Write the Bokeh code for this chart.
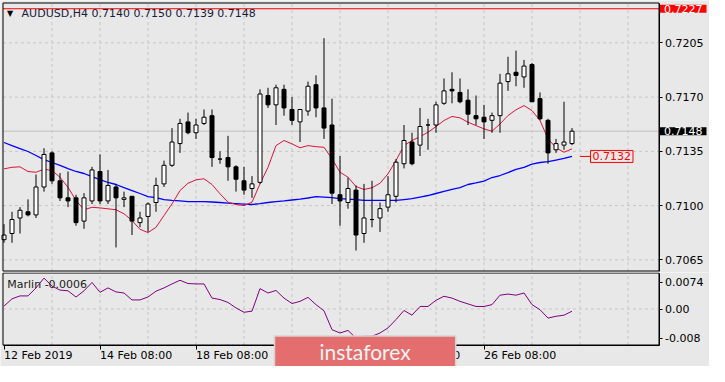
from bokeh.plotting import figure
from bokeh.layouts import column
from bokeh.models import (ColumnDataSource, FixedTicker, LinearAxis, Label,
                          PrintfTickFormatter, Range1d)
from bokeh.embed import file_html
from bokeh.resources import INLINE

# ---------------- data (AUDUSD, H4) ----------------
opens = [0.7078, 0.7082, 0.7092, 0.7096, 0.7094, 0.7112, 0.7134, 0.7116, 0.7105, 0.7105,
         0.7090, 0.7103, 0.7122, 0.7103, 0.7112, 0.7104, 0.7106, 0.7089, 0.7093, 0.7102,
         0.7114, 0.7126, 0.7140, 0.7154, 0.7147, 0.7153, 0.7158, 0.7130, 0.7131, 0.7125,
         0.7116, 0.7111, 0.7115, 0.7171, 0.7165, 0.7175, 0.7162, 0.7154, 0.7161, 0.7178,
         0.7163, 0.7152, 0.7107, 0.7102, 0.7110, 0.7082, 0.7091, 0.7092, 0.7099, 0.7106,
         0.7127, 0.7141, 0.7139, 0.7152, 0.7152, 0.7166, 0.7175, 0.7173, 0.7168, 0.7158,
         0.7157, 0.7155, 0.7158, 0.7180, 0.7186, 0.7183, 0.7191, 0.7169, 0.7155, 0.7136,
         0.7139, 0.7140]
highs = [0.7088, 0.7096, 0.7099, 0.7104, 0.7120, 0.7137, 0.7135, 0.7121, 0.7122, 0.7107,
         0.7108, 0.7125, 0.7133, 0.7123, 0.7114, 0.7109, 0.7106, 0.7096, 0.7102, 0.7118,
         0.7129, 0.7150, 0.7156, 0.7160, 0.7156, 0.7162, 0.7162, 0.7135, 0.7145, 0.7126,
         0.7125, 0.7119, 0.7175, 0.7176, 0.7178, 0.7178, 0.7170, 0.7162, 0.7180, 0.7184,
         0.7208, 0.7169, 0.7132, 0.7118, 0.7113, 0.7114, 0.7116, 0.7102, 0.7119, 0.7130,
         0.7152, 0.7147, 0.7163, 0.7156, 0.7167, 0.7182, 0.7186, 0.7182, 0.7175, 0.7171,
         0.7165, 0.7160, 0.7185, 0.7196, 0.7200, 0.7194, 0.7192, 0.7173, 0.7156, 0.7143,
         0.7167, 0.7150]
lows = [0.7076, 0.7076, 0.7082, 0.7093, 0.7092, 0.7109, 0.7114, 0.7103, 0.7099, 0.7087,
        0.7085, 0.7101, 0.7101, 0.7101, 0.7073, 0.7099, 0.7081, 0.7086, 0.7083, 0.7096,
        0.7112, 0.7125, 0.7134, 0.7146, 0.7143, 0.7152, 0.7125, 0.7127, 0.7116, 0.7109,
        0.7107, 0.7105, 0.7114, 0.7163, 0.7152, 0.7158, 0.7152, 0.7141, 0.7158, 0.7157,
        0.7143, 0.7101, 0.7087, 0.7098, 0.7071, 0.7076, 0.7086, 0.7083, 0.7096, 0.7102,
        0.7124, 0.7126, 0.7132, 0.7136, 0.7147, 0.7165, 0.7166, 0.7166, 0.7152, 0.7152,
        0.7143, 0.7147, 0.7147, 0.7174, 0.7177, 0.7176, 0.7167, 0.7155, 0.7127, 0.7134,
        0.7136, 0.7139]
closes = [0.7081, 0.7091, 0.7097, 0.7094, 0.7112, 0.7133, 0.7116, 0.7105, 0.7103, 0.7089,
          0.7105, 0.7123, 0.7103, 0.7113, 0.7105, 0.7105, 0.7090, 0.7092, 0.7101, 0.7113,
          0.7126, 0.7141, 0.7153, 0.7147, 0.7152, 0.7157, 0.7131, 0.7130, 0.7125, 0.7117,
          0.7110, 0.7114, 0.7172, 0.7165, 0.7176, 0.7163, 0.7155, 0.7162, 0.7177, 0.7163,
          0.7150, 0.7108, 0.7103, 0.7111, 0.7081, 0.7092, 0.7091, 0.7098, 0.7107, 0.7128,
          0.7142, 0.7127, 0.7151, 0.7152, 0.7165, 0.7174, 0.7174, 0.7167, 0.7159, 0.7156,
          0.7154, 0.7158, 0.7179, 0.7185, 0.7184, 0.7190, 0.7167, 0.7156, 0.7134, 0.7140,
          0.7141, 0.7148]
ma_fast = [0.71237, 0.71247, 0.71250, 0.71220, 0.71215, 0.71235, 0.71226, 0.71183, 0.71118, 0.71033,
           0.70973, 0.70989, 0.70985, 0.70979, 0.70973, 0.70947, 0.70904, 0.70847, 0.70826, 0.70860,
           0.70936, 0.71011, 0.71097, 0.71144, 0.71166, 0.71173, 0.71136, 0.71076, 0.71022, 0.71007,
           0.71000, 0.71022, 0.71140, 0.71247, 0.71387, 0.71420, 0.71398, 0.71373, 0.71387, 0.71380,
           0.71376, 0.71302, 0.71215, 0.71183, 0.71123, 0.71104, 0.71115, 0.71144, 0.71205, 0.71291,
           0.71387, 0.71420, 0.71445, 0.71473, 0.71510, 0.71549, 0.71575, 0.71566, 0.71538, 0.71516,
           0.71495, 0.71480, 0.71527, 0.71581, 0.71618, 0.71645, 0.71613, 0.71549, 0.71431, 0.71373,
           0.71344, 0.71366]
ma_slow = [0.71407, 0.71387, 0.71368, 0.71349, 0.71323, 0.71297, 0.71278, 0.71259, 0.71239, 0.71220,
           0.71207, 0.71187, 0.71168, 0.71149, 0.71136, 0.71116, 0.71097, 0.71078, 0.71058, 0.71052,
           0.71039, 0.71033, 0.71030, 0.71026, 0.71026, 0.71026, 0.71023, 0.71020, 0.71016, 0.71013,
           0.71010, 0.71007, 0.71013, 0.71020, 0.71026, 0.71030, 0.71036, 0.71042, 0.71049, 0.71058,
           0.71055, 0.71052, 0.71045, 0.71042, 0.71039, 0.71033, 0.71033, 0.71033, 0.71033, 0.71033,
           0.71039, 0.71045, 0.71055, 0.71065, 0.71078, 0.71091, 0.71104, 0.71116, 0.71136, 0.71146,
           0.71158, 0.71181, 0.71194, 0.71213, 0.71233, 0.71246, 0.71268, 0.71278, 0.71284, 0.71294,
           0.71304, 0.71317]
marlin = [0.0008, 0.0028, 0.0036, 0.0036, 0.0058, 0.0085, 0.0063, 0.0052, 0.0050, 0.0033,
          0.0050, 0.0073, 0.0046, 0.0058, 0.0047, 0.0044, 0.0025, 0.0025, 0.0033, 0.0049,
          0.0058, 0.0069, 0.0079, 0.0070, 0.0069, 0.0069, 0.0030, 0.0026, 0.0018, 0.0003,
          -0.0009, -0.0006, 0.0056, 0.0044, 0.0051, 0.0030, 0.0015, 0.0021, 0.0032, 0.0012,
          -0.0005, -0.0057, -0.0066, -0.0059, -0.0080, -0.0075, -0.0075, -0.0066, -0.0052, -0.0029,
          -0.0004, -0.0017, 0.0007, 0.0007, 0.0024, 0.0035, 0.0030, 0.0021, 0.0014, 0.0007,
          0.0007, 0.0012, 0.0038, 0.0041, 0.0038, 0.0044, 0.0012, -0.0002, -0.0025, -0.0020,
          -0.0017, -0.0006]
level_price = 0.7227
price_ticks = [0.7205, 0.7170, 0.7135, 0.7100, 0.7065]
marlin_ticks = [0.0074, 0.0, -0.008]
marlin_tick_labels = ["0.0074", "0.00", "-0.008"]
time_tick_bars = [0, 12, 24, 36, 48, 60]
time_tick_labels = ["12 Feb 2019", "14 Feb 08:00", "18 Feb 08:00",
                    "20 Feb 08:00", "22 Feb 08:00", "26 Feb 08:00"]
grid_bars = list(range(6, 82, 6))

# ---------------- layout constants ----------------
BG = "#e8e8e8"
GRID = "#c6c6c6"
FONT = "DejaVu Sans"
W = 709
H1, H2 = 272, 94
PX = 8.0                        # pixels per bar
XS = -0.4375                    # data x at the left edge of the canvas
XE = XS + W / PX
X0 = -0.125                     # chart area left border
X1 = XS + 658.5 / PX            # chart area right border (price axis)
PPX = 0.0035 / 54.25            # price per pixel
Y1 = 0.72307                    # chart top border
Y0 = Y1 - 268 * PPX             # chart bottom border
MPX = 1.0 / 3636                # indicator value per pixel
M1 = 36 * MPX
M0 = M1 - 72 * MPX

n = len(opens)
bars = list(range(n))
src = ColumnDataSource(dict(
    x=bars, high=highs, low=lows,
    top=[max(o, c) for o, c in zip(opens, closes)],
    bottom=[min(o, c) for o, c in zip(opens, closes)],
    fill=["white" if c >= o else "black" for o, c in zip(opens, closes)],
))


def base_fig(height, y0, y1):
    p = figure(width=W, height=height, x_range=Range1d(XS, XE), y_range=Range1d(y0, y1),
               output_backend="svg", toolbar_location=None,
               x_axis_location=None, y_axis_location=None,
               min_border_left=0, min_border_right=0, min_border_top=0, min_border_bottom=0,
               background_fill_color=BG, border_fill_color=BG, outline_line_color=None)
    p.grid.visible = False
    return p


def style_axis(ax):
    ax.major_tick_out = 3
    ax.major_tick_in = 0
    ax.minor_tick_out = 0
    ax.minor_tick_in = 0
    ax.axis_line_color = "black"
    ax.major_tick_line_color = "black"
    ax.major_label_text_font = FONT
    ax.major_label_text_font_size = "11px"
    ax.major_label_text_color = "black"
    ax.major_label_standoff = 3


# ---------------- main price panel ----------------
p1 = base_fig(H1, Y1 - 269.5 * PPX, Y1 + 2.5 * PPX)

# grid
p1.segment(x0=grid_bars, y0=[Y0] * len(grid_bars), x1=grid_bars, y1=[Y1] * len(grid_bars),
           line_color=GRID, line_width=1, line_dash="3 3")
p1.segment(x0=[X0] * len(price_ticks), y0=price_ticks, x1=[X1] * len(price_ticks), y1=price_ticks,
           line_color=GRID, line_width=1, line_dash="3 3")
# bid line and level line
p1.segment(x0=[X0], y0=[closes[-1]], x1=[X1], y1=[closes[-1]], line_color="#c0c0c0", line_width=1)
p1.segment(x0=[X0], y0=[level_price], x1=[X1], y1=[level_price], line_color="#ff0000", line_width=1)

p1.line(bars, ma_slow, line_color="#0000ff", line_width=1.3)
p1.line(bars, ma_fast, line_color="#dc143c", line_width=1)
p1.segment(x0="x", y0="low", x1="x", y1="high", source=src, line_color="black", line_width=1)
p1.vbar(x="x", width=0.5, top="top", bottom="bottom", fill_color="fill",
        line_color="black", line_width=1, source=src)

# chart border
p1.quad(left=[X0], right=[X1], bottom=[Y0], top=[Y1], fill_color=None,
        line_color="black", line_width=1)

ax = LinearAxis(fixed_location=X1, bounds=(Y0, Y1), ticker=FixedTicker(ticks=price_ticks),
                formatter=PrintfTickFormatter(format="%.4f"))
style_axis(ax)
p1.add_layout(ax, "right")

# MA value marker
ma_txt = "%.4f" % ma_slow[-1]
p1.segment(x0=[n], y0=[ma_slow[-1]], x1=[n + 1.31], y1=[ma_slow[-1]],
           line_color="#ff0000", line_width=1)
p1.add_layout(Label(x=n + 1.31, y=ma_slow[-1], text=ma_txt, text_align="left",
                    text_baseline="middle", text_color="#ff0000", text_font=FONT,
                    text_font_size="11px", border_line_color="#ff0000", border_line_width=1,
                    padding=dict(left=2, right=2, top=2, bottom=2)))

# title
p1.add_layout(Label(x=X0 + 4 / PX, y=Y1 - 10.5 * PPX, text="\u25bc", text_align="left",
                    text_baseline="middle", text_color="black", text_font=FONT,
                    text_font_size="8px"))
title = "AUDUSD,H4  %.4f %.4f %.4f %.4f" % (opens[-1], highs[-1], lows[-1], closes[-1])
p1.add_layout(Label(x=X0 + 18.6 / PX, y=Y1 - 10.5 * PPX, text=title, text_align="left",
                    text_baseline="middle", text_color="#1a1a3a", text_font=FONT,
                    text_font_size="11px"))

# right-side price boxes
for price, bgc in ((level_price, "#ff0000"), (closes[-1], "black")):
    p1.add_layout(Label(x=X1 + 1 / PX, y=price, text="%.4f" % price,
                        text_align="left", text_baseline="middle", text_color="white",
                        text_font=FONT, text_font_size="11px", background_fill_color=bgc,
                        padding=dict(left=4, right=4, top=0, bottom=0)))

# ---------------- indicator panel ----------------
p2 = base_fig(H2, M1 - 93.5 * MPX, M1 + 0.5 * MPX)
p2.x_range = p1.x_range

p2.segment(x0=grid_bars, y0=[M0] * len(grid_bars), x1=grid_bars, y1=[M1] * len(grid_bars),
           line_color=GRID, line_width=1, line_dash="3 3")
p2.segment(x0=[X0], y0=[0.0], x1=[X1], y1=[0.0], line_color=GRID, line_width=1, line_dash="3 3")

p2.line(bars, marlin, line_color="#800080", line_width=1)

p2.quad(left=[X0], right=[X1], bottom=[M0], top=[M1], fill_color=None,
        line_color="black", line_width=1)

ay = LinearAxis(fixed_location=X1, bounds=(M0, M1), ticker=FixedTicker(ticks=marlin_ticks))
ay.major_label_overrides = {t: s for t, s in zip(marlin_ticks, marlin_tick_labels)}
style_axis(ay)
p2.add_layout(ay, "right")

axx = LinearAxis(fixed_location=M0, bounds=(X0, X1), ticker=FixedTicker(ticks=time_tick_bars))
style_axis(axx)
axx.major_tick_out = 4
axx.major_label_text_color = None
p2.add_layout(axx, "below")

p2.add_layout(Label(x=X0 + 4.3 / PX, y=M1 - 11 * MPX, text="Marlin %.4f" % marlin[-1],
                    text_align="left", text_baseline="middle", text_color="#202020",
                    text_font=FONT, text_font_size="11px"))

for b, t in zip(time_tick_bars, time_tick_labels):
    p2.add_layout(Label(x=b, y=M0 - 10.5 * MPX, text=t, text_align="left",
                        text_baseline="middle", text_color="black", text_font=FONT,
                        text_font_size="11px"))

# watermark
p2.add_layout(Label(x=33.81, y=M1 - 80 * MPX, text="instaforex", text_align="left",
                    text_baseline="middle", text_color="#f4f4f4", text_font="Lato",
                    text_font_size="21px", background_fill_color="#e46e6e",
                    border_line_color="#d4d4d4", border_line_width=1.5,
                    padding=dict(left=45, right=45, top=3, bottom=6)))

layout = column(p1, p2, spacing=0)
open("out.html", "w").write(file_html(layout, INLINE))
